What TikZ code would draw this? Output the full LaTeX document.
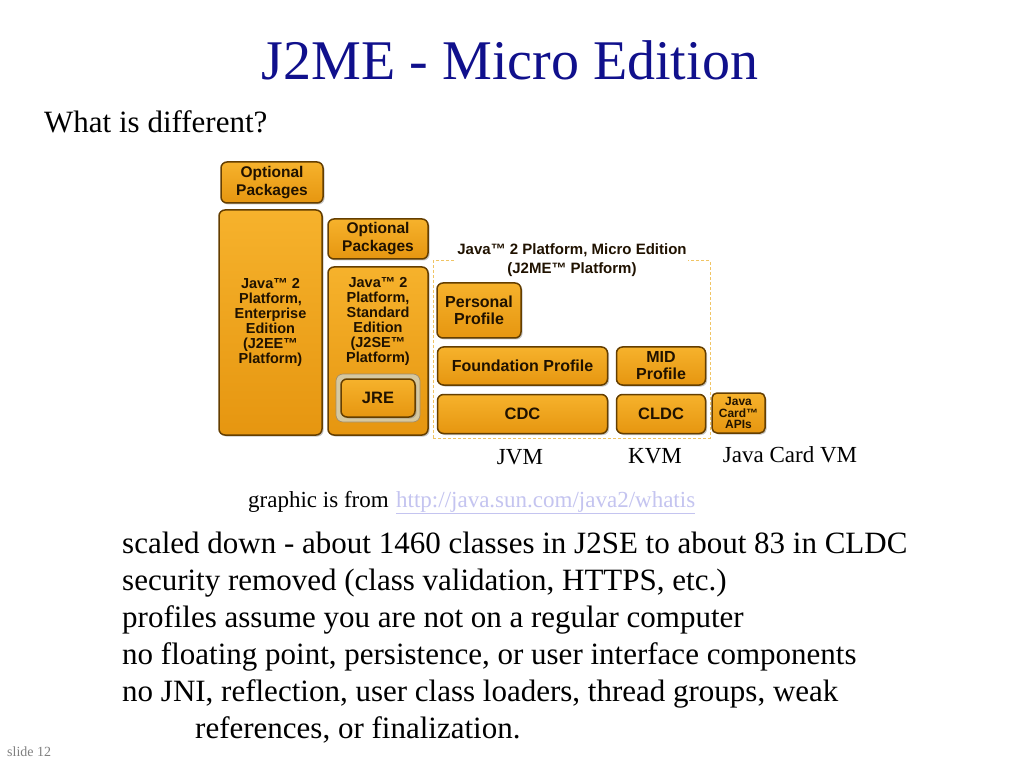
\documentclass[tikz,border=0pt]{standalone}
\usepackage{fontspec}
\setmainfont{Liberation Serif}
\newfontfamily\boxfont{Liberation Sans}
\usetikzlibrary{shadows}
\definecolor{titleblue}{RGB}{16,16,140}
\definecolor{boxtop}{RGB}{246,178,44}
\definecolor{boxbot}{RGB}{230,150,16}
\definecolor{boxedge}{RGB}{100,62,0}
\definecolor{boxink}{RGB}{32,18,0}
\definecolor{dashorange}{RGB}{240,196,100}
\definecolor{linkblue}{RGB}{196,196,240}
\definecolor{jrering}{RGB}{214,200,160}
\begin{document}
\begin{tikzpicture}[x=1pt,y=-1pt]
		\tikzstyle{block} = [rectangle,rounded corners=6pt,draw=boxedge,line width=1.5pt,top color=boxtop,bottom color=boxbot,text=boxink,align=center,font=\boxfont\bfseries\fontsize{15.5}{18}\selectfont,drop shadow={shadow xshift=1.5pt,shadow yshift=-1.5pt,opacity=0.45}]
		\tikzstyle{serif} = [inner sep=0pt,font=\fontsize{31}{37}\selectfont]
		\tikzstyle{vmlabel} = [inner sep=0pt,anchor=base,font=\fontsize{23}{27}\selectfont]
		\useasboundingbox[fill=white] (0,0) rectangle (1023,767);
		\node[anchor=base,inner sep=0pt,text=titleblue,font=\fontsize{56}{60}\selectfont] at (510,80)(title){J2ME - Micro Edition};
		\node[serif,anchor=base west] at (44,133)(question){What is different?};
		% J2EE and J2SE columns
		\node[block,minimum width=102,minimum height=41] at (272,182.5)(optee){Optional\\Packages};
		\node[block,minimum width=103,minimum height=225,font=\boxfont\bfseries\fontsize{14.5}{15}\selectfont] at (270.5,322.5)(j2ee){Java™ 2\\Platform,\\Enterprise\\Edition\\(J2EE™\\Platform)};
		\node[block,minimum width=100,minimum height=40] at (378,239)(optse){Optional\\Packages};
		\node[block,minimum width=100,minimum height=168] at (378,351)(j2se){};
		\node[align=center,text=boxink,font=\boxfont\bfseries\fontsize{14.5}{15}\selectfont] at (378,321)(j2setext){Java™ 2\\Platform,\\Standard\\Edition\\(J2SE™\\Platform)};
		\node[rectangle,rounded corners=7pt,fill=jrering,draw=boxedge!60,line width=0.6pt,minimum width=84,minimum height=48] at (378,398)(jrering){};
		\node[block,minimum width=74,minimum height=38,drop shadow={opacity=0},font=\boxfont\bfseries\fontsize{16.5}{18}\selectfont] at (378,398)(jre){JRE};
		% J2ME platform
		\node[rectangle,draw=dashorange,line width=1pt,dash pattern=on 3pt off 2pt,minimum width=277,minimum height=177] at (571.5,349.5)(j2me){};
		\node[fill=white,inner sep=1pt,align=center,text=boxink,font=\boxfont\bfseries\fontsize{15}{19}\selectfont] at (572,260)(j2metitle){Java™ 2 Platform, Micro Edition\\(J2ME™ Platform)};
		\node[block,minimum width=84,minimum height=55,font=\boxfont\bfseries\fontsize{16}{17}\selectfont] at (479,310.5)(personal){Personal\\Profile};
		\node[block,minimum width=170,minimum height=38,font=\boxfont\bfseries\fontsize{16}{18}\selectfont] at (522.5,366)(foundation){Foundation Profile};
		\node[block,minimum width=89,minimum height=38,font=\boxfont\bfseries\fontsize{16}{17}\selectfont] at (661,366)(mid){MID\\Profile};
		\node[block,minimum width=170,minimum height=39,font=\boxfont\bfseries\fontsize{16.5}{18}\selectfont] at (522.5,414)(cdc){CDC};
		\node[block,minimum width=89,minimum height=39,font=\boxfont\bfseries\fontsize{16.5}{18}\selectfont] at (661,414)(cldc){CLDC};
		\node[block,minimum width=53,minimum height=40,inner sep=0pt,rounded corners=5pt,font=\boxfont\bfseries\fontsize{12}{11.5}\selectfont] at (738.5,413)(javacard){Java\\Card™\\APIs};
		\node[vmlabel] at (520,464)(jvm){JVM};
		\node[vmlabel] at (655,463)(kvm){KVM};
		\node[vmlabel] at (790,462)(cardvm){Java Card VM};
		% source and notes
		\node[inner sep=0pt,anchor=base west,font=\fontsize{23}{27}\selectfont] at (248,507)(source){graphic is from};
		\node[inner sep=0pt,anchor=base west,text=linkblue,font=\fontsize{23}{27}\selectfont] at (396,507)(link){\underline{http://java.sun.com/java2/whatis}};
		\node[serif,anchor=base west] at (122,553)(line1){scaled down - about 1460 classes in J2SE to about 83 in CLDC};
		\node[serif,anchor=base west] at (122,590)(line2){security removed (class validation, HTTPS, etc.)};
		\node[serif,anchor=base west] at (122,627)(line3){profiles assume you are not on a regular computer};
		\node[serif,anchor=base west] at (122,664)(line4){no floating point, persistence, or user interface components};
		\node[serif,anchor=base west] at (122,701)(line5){no JNI, reflection, user class loaders, thread groups, weak};
		\node[serif,anchor=base west] at (195,738)(line6){references, or finalization.};
		\node[inner sep=0pt,anchor=base west,text=gray,font=\fontsize{14}{16}\selectfont] at (7,756)(slide){slide 12};
		\end{tikzpicture}
\end{document}
